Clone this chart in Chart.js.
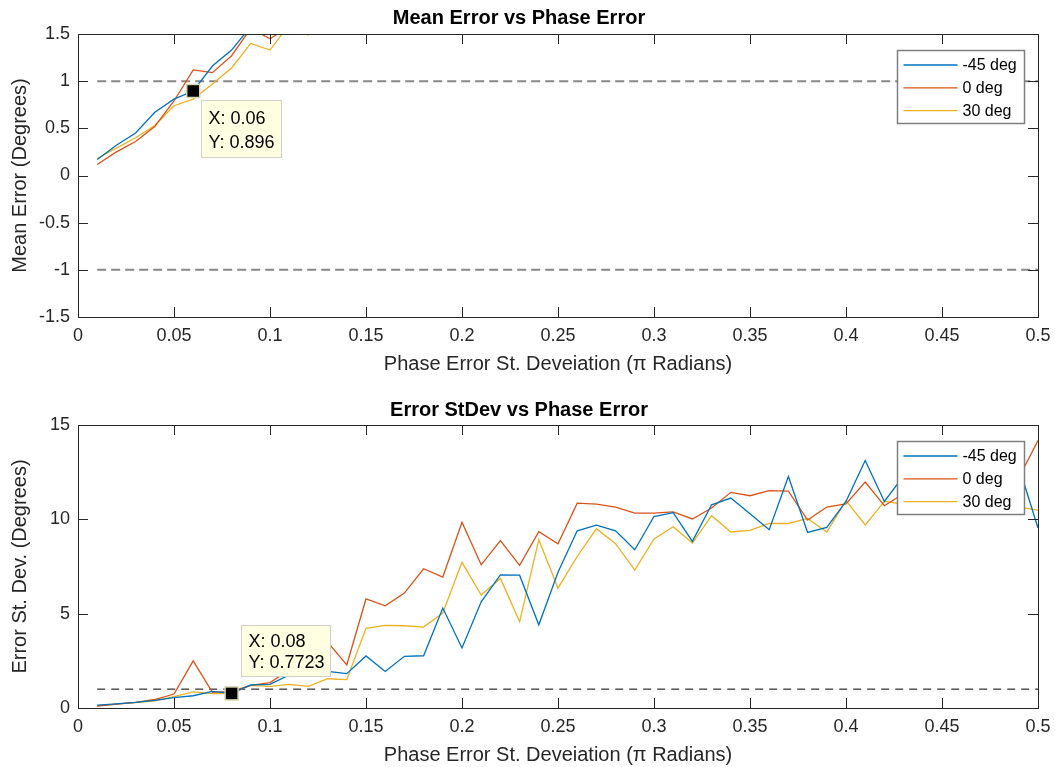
<!DOCTYPE html>
<html>
<head>
<meta charset="utf-8">
<script src="https://cdn.jsdelivr.net/npm/chart.js@4.4.1/dist/chart.umd.min.js"></script>
<style>
  body { margin: 0; background: #fff; }
  canvas { display: block; }
</style>
</head>
<body>
<canvas id="meanChart" width="1055" height="383"></canvas>
<canvas id="stdChart" width="1055" height="384"></canvas>
<script>
// phase error st. deviation (pi radians)
const phaseStd = [0.01, 0.02, 0.03, 0.04, 0.05, 0.06, 0.07, 0.08, 0.09, 0.10,
	0.11, 0.12, 0.13, 0.14, 0.15, 0.16, 0.17, 0.18, 0.19, 0.20,
	0.21, 0.22, 0.23, 0.24, 0.25, 0.26, 0.27, 0.28, 0.29, 0.30,
	0.31, 0.32, 0.33, 0.34, 0.35, 0.36, 0.37, 0.38, 0.39, 0.40,
	0.41, 0.42, 0.43, 0.44, 0.45, 0.46, 0.47, 0.48, 0.49, 0.50];

const seriesNames = ['-45 deg', '0 deg', '30 deg'];
const seriesColors = ['#0072BD', '#D95319', '#EDB120'];

// mean error (degrees) - only the part that stays near the axes range
const meanM45 = [0.17, 0.32, 0.45, 0.67, 0.81, 0.896, 1.16, 1.33, 1.58, 1.66, 1.85, 2.0, 2.1];
const mean0 = [0.117, 0.25, 0.36, 0.52, 0.79, 1.12, 1.09, 1.27, 1.56, 1.45, 1.58, 1.7, 1.8];
const mean30 = [0.18, 0.29, 0.40, 0.53, 0.74, 0.81, 0.97, 1.14, 1.40, 1.33, 1.6, 1.49, 1.7];

// error st. dev. (degrees)
const stdM45 = [0.15, 0.22, 0.30, 0.40, 0.55, 0.65, 0.88, 0.7723, 1.23, 1.25,
	1.75, 1.9, 1.94, 1.82, 2.76, 1.94, 2.74, 2.77, 5.3, 3.18,
	5.63, 7.05, 7.04, 4.41, 7.2, 9.39, 9.69, 9.39, 8.39, 10.15,
	10.35, 8.83, 10.77, 11.13, 10.3, 9.45, 12.27, 9.31, 9.57, 10.95,
	13.12, 10.95, 12.3, 11.8, 12.1, 11.5, 12.0, 12.6, 12.8, 9.54];
const std0 = [0.10, 0.20, 0.30, 0.45, 0.74, 2.5, 0.83, 0.88, 1.2, 1.35,
	2.0, 3.0, 3.5, 2.29, 5.78, 5.42, 6.09, 7.38, 6.94, 9.85,
	7.59, 8.87, 7.56, 9.34, 8.7, 10.86, 10.81, 10.65, 10.33, 10.33,
	10.39, 10.02, 10.6, 11.43, 11.25, 11.52, 11.5, 9.96, 10.65, 10.82,
	11.98, 10.72, 11.36, 11.6, 11.3, 11.8, 12.0, 11.7, 12.2, 14.18];
const std30 = [0.12, 0.20, 0.28, 0.38, 0.60, 0.85, 0.76, 0.77, 1.2, 1.15,
	1.25, 1.15, 1.55, 1.5, 4.22, 4.38, 4.36, 4.29, 5.03, 7.72,
	5.99, 6.87, 4.57, 8.92, 6.35, 8.03, 9.5, 8.71, 7.31, 8.96,
	9.61, 8.74, 10.19, 9.33, 9.41, 9.78, 9.78, 10.05, 9.33, 10.99,
	9.7, 10.95, 10.8, 11.0, 10.6, 10.9, 10.7, 10.8, 10.65, 10.49];

// threshold lines
const meanLimits = [1, -1];
const stdLimit = 1;
const limitSpan = [0.01, 0.5];

Chart.defaults.font.family = '"Liberation Sans", Arial, Helvetica, sans-serif';
Chart.defaults.color = '#262626';

function toPoints(values) {
	return values.map((v, i) => ({ x: phaseStd[i], y: v }));
}

function seriesSets(list) {
	return list.map((values, i) => ({
		label: seriesNames[i],
		data: toPoints(values),
		borderColor: seriesColors[i],
		borderWidth: 1.3,
		pointRadius: 0,
		fill: false,
		tension: 0,
	}));
}

function limitSet(y, color, width, dash) {
	return {
		label: '',
		data: limitSpan.map(x => ({ x: x, y: y })),
		borderColor: color,
		borderWidth: width,
		borderDash: dash,
		pointRadius: 0,
		fill: false,
	};
}

function fmt(v) {
	return String(parseFloat(Number(v).toFixed(2)));
}

// draws the matlab style box, inward ticks, legend and data tip
const matlabExtras = {
	id: 'matlabExtras',
	afterDraw(chart, args, opts) {
		const ctx = chart.ctx;
		const a = chart.chartArea;
		const sx = chart.scales.x;
		const sy = chart.scales.y;
		ctx.save();

		// box + ticks
		ctx.strokeStyle = '#262626';
		ctx.lineWidth = 1;
		ctx.beginPath();
		sx.ticks.forEach(t => {
			const px = Math.round(sx.getPixelForValue(t.value)) + 0.5;
			ctx.moveTo(px, a.bottom);
			ctx.lineTo(px, a.bottom - 10);
			ctx.moveTo(px, a.top);
			ctx.lineTo(px, a.top + 10);
		});
		sy.ticks.forEach(t => {
			const py = Math.round(sy.getPixelForValue(t.value)) + 0.5;
			ctx.moveTo(a.left, py);
			ctx.lineTo(a.left + 10, py);
			ctx.moveTo(a.right, py);
			ctx.lineTo(a.right - 10, py);
		});
		ctx.stroke();
		ctx.strokeRect(Math.round(a.left) + 0.5, Math.round(a.top) + 0.5,
			Math.round(a.right - a.left), Math.round(a.bottom - a.top));

		// legend
		const lw = 127, lh = 73;
		const lx = Math.round(a.right - 141.5) + 0.5;
		const ly = Math.round(a.top + opts.legendTop) + 0.5;
		ctx.fillStyle = '#ffffff';
		ctx.fillRect(lx, ly, lw, lh);
		ctx.strokeStyle = '#7f7f7f';
		ctx.lineWidth = 1.5;
		ctx.strokeRect(lx, ly, lw, lh);
		ctx.font = '16px "Liberation Sans", Arial, sans-serif';
		ctx.textBaseline = 'middle';
		seriesNames.forEach((name, i) => {
			const ry = ly + 14.5 + i * 22.8;
			ctx.strokeStyle = seriesColors[i];
			ctx.lineWidth = 1.3;
			ctx.beginPath();
			ctx.moveTo(lx + 6, ry);
			ctx.lineTo(lx + 60, ry);
			ctx.stroke();
			ctx.fillStyle = '#000';
			ctx.fillText(name, lx + 65, ry + 1);
		});

		// data tip
		const tip = opts.tip;
		const mx = sx.getPixelForValue(tip.x);
		const my = sy.getPixelForValue(tip.y);
		const bx = Math.round(mx + tip.dx) + 0.5;
		const by = Math.round(my + tip.dy) + 0.5;
		ctx.fillStyle = '#ffffe1';
		ctx.fillRect(bx, by, tip.w, tip.h);
		ctx.strokeStyle = '#d0d0c8';
		ctx.lineWidth = 1;
		ctx.strokeRect(bx, by, tip.w, tip.h);
		ctx.fillStyle = '#000';
		ctx.font = '18px "Liberation Sans", Arial, sans-serif';
		ctx.textBaseline = 'middle';
		ctx.fillText('X: ' + tip.xText, bx + 7, by + tip.h * 0.32);
		ctx.fillText('Y: ' + tip.yText, bx + 7, by + tip.h * 0.74);

		ctx.fillStyle = '#000';
		ctx.fillRect(mx - 6.5, my - 6.5, 13, 13);
		ctx.strokeStyle = '#d8d8b0';
		ctx.lineWidth = 1.5;
		ctx.strokeRect(mx - 6.5, my - 6.5, 13, 13);
		ctx.restore();
	},
};

function makeOptions(cfg) {
	return {
		responsive: false,
		animation: false,
		events: [],
		layout: { padding: { left: 0, right: 17, top: 0, bottom: 0 } },
		plugins: {
			legend: { display: false },
			tooltip: { enabled: false },
			title: {
				display: true,
				text: cfg.title,
				color: '#000',
				font: { size: 20, weight: 'bold' },
				padding: cfg.titlePad,
			},
			matlabExtras: { legendTop: 16, tip: cfg.tip },
		},
		scales: {
			x: {
				type: 'linear',
				min: 0,
				max: 0.5,
				grid: { display: false, drawTicks: false },
				border: { display: false },
				ticks: {
					stepSize: 0.05,
					autoSkip: false,
					maxRotation: 0,
					padding: 8,
					color: '#262626',
					font: { size: 18 },
					callback: v => fmt(v),
				},
				title: {
					display: true,
					text: 'Phase Error St. Deveiation (\u03c0 Radians)',
					color: '#262626',
					font: { size: 20 },
					padding: { top: 0, bottom: cfg.xTitlePad },
				},
				afterFit: s => {
					s.height = cfg.xHeight;
					s.paddingLeft = 0;
					s.paddingRight = 0;
				},
			},
			y: {
				min: cfg.yMin,
				max: cfg.yMax,
				grid: { display: false, drawTicks: false },
				border: { display: false },
				ticks: {
					stepSize: cfg.yStep,
					padding: 8,
					color: '#262626',
					font: { size: 18 },
					callback: v => fmt(v),
				},
				title: {
					display: true,
					text: cfg.yTitle,
					color: '#262626',
					font: { size: 20 },
					padding: { top: 8, bottom: 0 },
				},
				afterFit: s => { s.width = 78; },
			},
		},
	};
}

new Chart(document.getElementById('meanChart').getContext('2d'), {
	type: 'line',
	data: {
		datasets: seriesSets([meanM45, mean0, mean30]).concat(
			meanLimits.map(y => limitSet(y, '#888888', 2, [9, 5]))),
	},
	options: makeOptions({
		title: 'Mean Error vs Phase Error',
		titlePad: { top: 6, bottom: 4 },
		yTitle: 'Mean Error (Degrees)',
		yMin: -1.5, yMax: 1.5, yStep: 0.5,
		xHeight: 66, xTitlePad: 7,
		tip: { x: 0.06, y: 0.896, xText: '0.06', yText: '0.896', dx: 8, dy: 9, w: 80, h: 57 },
	}),
	plugins: [matlabExtras],
});

new Chart(document.getElementById('stdChart').getContext('2d'), {
	type: 'line',
	data: {
		datasets: seriesSets([stdM45, std0, std30]).concat(
			[limitSet(stdLimit, '#000000', 1, [8, 6])]),
	},
	options: makeOptions({
		title: 'Error StDev vs Phase Error',
		titlePad: { top: 15, bottom: 3 },
		yTitle: 'Error St. Dev. (Degrees)',
		yMin: 0, yMax: 15, yStep: 5,
		xHeight: 59, xTitlePad: 0,
		tip: { x: 0.08, y: 0.7723, xText: '0.08', yText: '0.7723', dx: 9, dy: -68, w: 89, h: 51 },
	}),
	plugins: [matlabExtras],
});
</script>
</body>
</html>
